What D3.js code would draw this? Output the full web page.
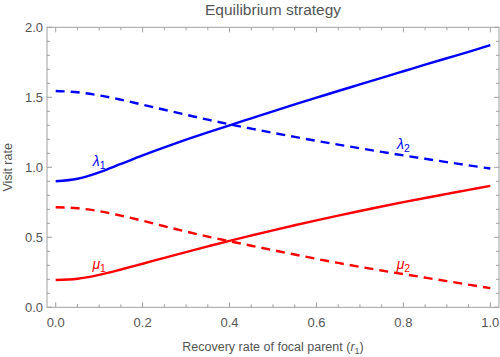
<!DOCTYPE html>
<html><head><meta charset="utf-8">
<script src="https://cdn.jsdelivr.net/npm/d3@7"></script>
<style>body{margin:0;background:#fff}svg{display:block;font-family:"Liberation Sans",Arial,sans-serif}</style>
</head><body><svg id="c" width="500" height="357"></svg>
<script>
const xs = [0,0.05,0.1,0.15,0.2,0.25,0.3,0.35,0.4,0.45,0.5,0.55,0.6,0.65,0.7,0.75,0.8,0.85,0.9,0.95,1.0];
const lambda1 = [0.900,0.918,0.964,1.024,1.085,1.142,1.197,1.249,1.300,1.350,1.400,1.449,1.497,1.545,1.592,1.639,1.686,1.733,1.779,1.825,1.872];
const lambda2 = [1.545,1.536,1.514,1.483,1.447,1.411,1.375,1.340,1.307,1.276,1.246,1.217,1.189,1.162,1.136,1.110,1.085,1.061,1.037,1.014,0.991];
const mu1 = [0.195,0.204,0.232,0.270,0.311,0.353,0.394,0.435,0.475,0.513,0.550,0.586,0.621,0.655,0.688,0.720,0.751,0.781,0.810,0.839,0.867];
const mu2 = [0.715,0.708,0.687,0.655,0.618,0.579,0.541,0.505,0.472,0.440,0.408,0.377,0.346,0.317,0.289,0.263,0.237,0.212,0.187,0.162,0.137];
const xTicks = [0,0.2,0.4,0.6,0.8,1.0];
const yTicks = [0,0.5,1.0,1.5,2.0];
const title = "Equilibrium strategy";
const xTitle = "Recovery rate of focal parent (";
const yTitle = "Visit rate";

const svg = d3.select("#c");
const L=47,R=499,T=27.3,B=307.3;
const x = d3.scaleLinear().domain([-0.02,1.02]).range([L,R]);
const y = d3.scaleLinear().domain([0,2]).range([B,T]);
const grey="#a0a0a0", txt="#555";

// frame
svg.append("rect").attr("x",L).attr("y",T).attr("width",R-L).attr("height",B-T)
  .attr("fill","none").attr("stroke",grey).attr("stroke-width",1);

// ticks
const xMinor = d3.range(0,1.0001,0.05);
const yMinor = d3.range(0,2.0001,0.1);
const g = svg.append("g").attr("stroke",grey).attr("stroke-width",1);
xMinor.forEach(v=>{
  const major = xTicks.some(t=>Math.abs(t-v)<1e-6);
  const len = major?5:3;
  g.append("line").attr("x1",x(v)).attr("x2",x(v)).attr("y1",B).attr("y2",B-len);
  g.append("line").attr("x1",x(v)).attr("x2",x(v)).attr("y1",T).attr("y2",T+len);
});
yMinor.forEach(v=>{
  const major = yTicks.some(t=>Math.abs(t-v)<1e-6);
  const len = major?5:3;
  g.append("line").attr("y1",y(v)).attr("y2",y(v)).attr("x1",L).attr("x2",L+len);
  g.append("line").attr("y1",y(v)).attr("y2",y(v)).attr("x1",R).attr("x2",R-len);
});
svg.append("g").selectAll("text").data(xTicks).join("text")
  .attr("x",d=>x(d)).attr("y",B+20).attr("text-anchor","middle")
  .attr("font-size",13).attr("fill",txt).text(d=>d.toFixed(1));
svg.append("g").selectAll("text").data(yTicks).join("text")
  .attr("x",L-4).attr("y",d=>y(d)+4.7).attr("text-anchor","end")
  .attr("font-size",13).attr("fill",txt).text(d=>d.toFixed(1));

// titles
svg.append("text").attr("x",(L+R)/2).attr("y",15).attr("text-anchor","middle")
  .attr("font-size",15.5).attr("fill",txt).text(title);
const xt = svg.append("text").attr("x",(L+R)/2).attr("y",351).attr("text-anchor","middle")
  .attr("font-size",12.5).attr("fill",txt);
xt.append("tspan").text(xTitle);
xt.append("tspan").attr("font-style","italic").text("r");
xt.append("tspan").attr("font-size",9).attr("dy",3).text("1");
xt.append("tspan").attr("dy",-3).text(")");
svg.append("text").attr("transform",`translate(12,${(T+B)/2}) rotate(-90)`)
  .attr("text-anchor","middle").attr("font-size",12.5).attr("fill",txt).text(yTitle);

// lines
const line = d3.line().x((d,i)=>x(xs[i])).y(d=>y(d)).curve(d3.curveCatmullRom);
const series = [
  {v:lambda1,c:"#0000ff",dash:null},
  {v:lambda2,c:"#0000ff",dash:"9,6"},
  {v:mu1,c:"#ff0000",dash:null},
  {v:mu2,c:"#ff0000",dash:"9,6"}
];
svg.append("g").selectAll("path").data(series).join("path")
  .attr("d",d=>line(d.v)).attr("fill","none").attr("stroke",d=>d.c)
  .attr("stroke-width",2.4).attr("stroke-dasharray",d=>d.dash);

// labels
const labels = [
  {t:"λ",s:"1",xv:0.10,yv:1.01,c:"#0000ff"},
  {t:"λ",s:"2",xv:0.80,yv:1.13,c:"#0000ff"},
  {t:"μ",s:"1",xv:0.10,yv:0.275,c:"#ff0000"},
  {t:"μ",s:"2",xv:0.80,yv:0.275,c:"#ff0000"}
];
labels.forEach(l=>{
  const t = svg.append("text").attr("x",x(l.xv)).attr("y",y(l.yv)).attr("text-anchor","middle")
    .attr("font-size",14).attr("fill",l.c).attr("font-style","italic");
  t.append("tspan").text(l.t);
  t.append("tspan").attr("font-size",10.5).attr("font-style","normal").attr("dy",3).text(l.s);
});
</script></body></html>
